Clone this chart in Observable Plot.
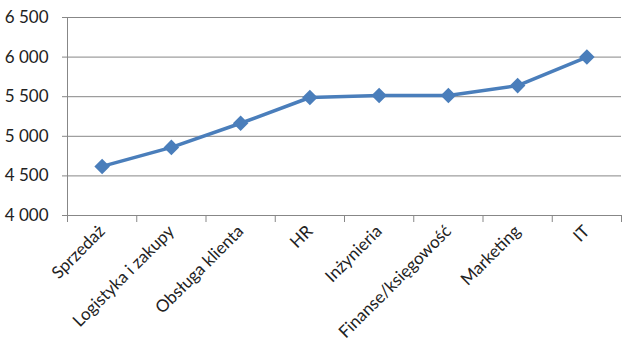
<!DOCTYPE html>
<html><head><meta charset="utf-8">
<script src="https://cdn.jsdelivr.net/npm/d3@7"></script>
<script src="https://cdn.jsdelivr.net/npm/@observablehq/plot@0.6"></script>
<style>body{margin:0;background:#fff;}</style>
</head><body><div id="chart"></div>
<script>
const categories = ["Sprzedaż","Logistyka i zakupy","Obsługa klienta","HR","Inżynieria","Finanse/księgowość","Marketing","IT"];
const values = [4620,4860,5165,5490,5515,5515,5640,6000];
const yTicks = [4000,4500,5000,5500,6000,6500];

const data = categories.map((c,i)=>({i, pos: i+0.5, c, v: values[i]}));
const fmt = d => d3.format(",")(d).replace(/,/g," ");
const axisColor = "#878787";
const lineColor = "#4A7EBB";
const textColor = "#222";
const plot = Plot.plot({
  width: 635, height: 361,
  marginLeft: 67, marginRight: 14, marginTop: 17, marginBottom: 146,
  style: {fontFamily: "Lato", fontSize: "17px", color: textColor, background:"#fff", overflow:"visible"},
  x: {type:"linear", domain:[0, categories.length], axis: null},
  y: {domain:[yTicks[0], yTicks[yTicks.length-1]], axis:null},
  marks: [
    Plot.gridY(yTicks, {stroke: axisColor, strokeOpacity:1}),
    Plot.axisY({ticks:yTicks, tickFormat: fmt, tickSize: 5, tickPadding: 14, stroke: axisColor, fill: textColor, label:null}),
    Plot.ruleX([0], {stroke: axisColor}),
    Plot.ruleY([yTicks[0]], {stroke: axisColor}),
    Plot.axisX({ticks: d3.range(categories.length+1), tickFormat: ()=>"", tickSize: 7, stroke: axisColor, label:null}),
    Plot.axisX({ticks: data.map(d=>d.pos), tickFormat: p => categories[Math.floor(p)], tickSize:0, tickRotate:-45, tickPadding: 13, fill: textColor, label:null}),
    Plot.line(data, {x:"pos", y:"v", stroke: lineColor, strokeWidth:3.5}),
    Plot.dot(data, {x:"pos", y:"v", symbol:"diamond2", r:7, fill: lineColor, stroke:"none"})
  ]
});
document.getElementById("chart").appendChild(plot);
</script>
</body></html>
